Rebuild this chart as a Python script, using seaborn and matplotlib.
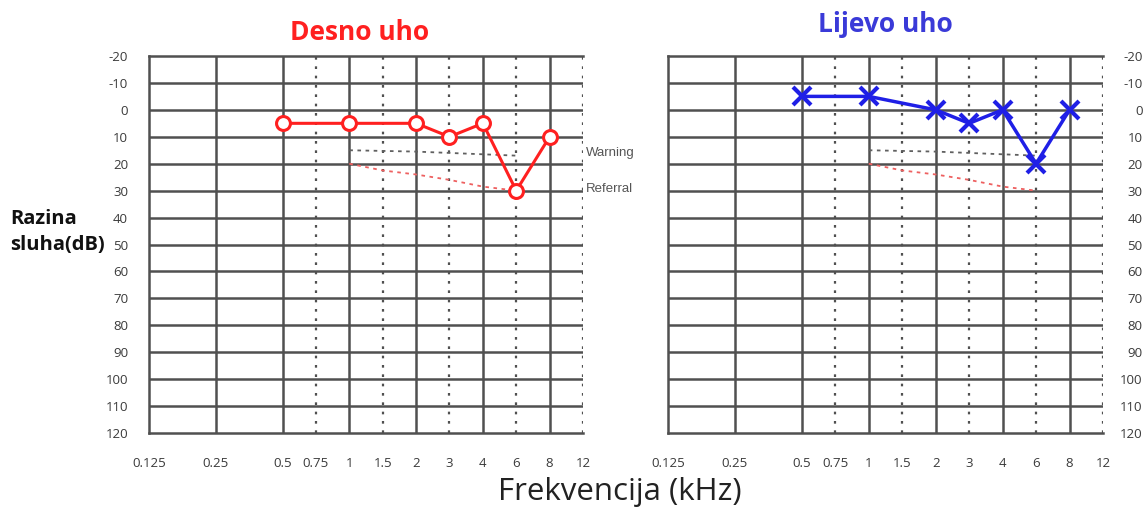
import numpy as np
import pandas as pd
import matplotlib
matplotlib.use("Agg")
import matplotlib.pyplot as plt
import seaborn as sns

# ---- data ----
freqs = [0.5, 1, 2, 3, 4, 6, 8]
right_ear = [5, 5, 5, 10, 5, 30, 10]      # Desno uho
left_ear = [-5, -5, 0, 5, 0, 20, 0]       # Lijevo uho

warn_freqs = [1, 2, 3, 4, 6]
warn_db = [15, 15.5, 16, 16.5, 17]
ref_freqs = [1, 1.5, 2, 3, 4, 6]
ref_db = [20, 22.5, 24, 26, 28.5, 30]

octave_ticks = [0.125, 0.25, 0.5, 1, 2, 4, 8]
octave_labels = ["0.125", "0.25", "0.5", "1", "2", "4", "8"]
half_ticks = [0.75, 1.5, 3, 6, 12]
half_labels = ["0.75", "1.5", "3", "6", "12"]
db_ticks = list(range(-20, 121, 10))

# ---- audiogram frequency scale: equal octaves, linear within each octave ----
def fwd(f):
    f = np.clip(np.asarray(f, dtype=float), 1e-6, None)
    k = np.floor(np.log2(f / 0.125) + 1e-9)
    base = 0.125 * 2.0 ** k
    return k + (f / base - 1.0)

def inv(p):
    p = np.asarray(p, dtype=float)
    k = np.floor(p + 1e-9)
    base = 0.125 * 2.0 ** k
    return base * (1.0 + (p - k))

sns.set_style("white")
plt.rcParams['font.family'] = ['Open Sans', 'DejaVu Sans']

W, H = 1146, 508
fig = plt.figure(figsize=(W / 100, H / 100), dpi=100)
axL = fig.add_axes([149 / W, 1 - 433 / H, (583 - 149) / W, (433 - 56) / H])
axR = fig.add_axes([668 / W, 1 - 433 / H, (1103 - 668) / W, (433 - 56) / H])

grid_c = "#505050"
tick_c = "#3a3a3a"

for ax, side in ((axL, "left"), (axR, "right")):
    ax.set_xscale("function", functions=(fwd, inv))
    ax.set_xlim(0.125, 12)
    ax.set_ylim(120, -20)
    ax.set_xticks(octave_ticks, labels=octave_labels)
    ax.set_xticks(half_ticks, labels=half_labels, minor=True)
    ax.set_yticks(db_ticks, labels=[str(v) for v in db_ticks])
    ax.grid(False)
    for v in octave_ticks[1:]:
        ax.axvline(v, color=grid_c, lw=1.8, zorder=1)
    for v in half_ticks:
        ax.axvline(v, color=grid_c, lw=1.6, ls=(0, (1.2, 3)), zorder=1)
    for v in db_ticks[1:-1]:
        ax.axhline(v, color=grid_c, lw=1.8, zorder=1)
    for s in ("left", "top", "bottom"):
        ax.spines[s].set_color(grid_c)
        ax.spines[s].set_linewidth(1.8)
    ax.spines["right"].set_visible(False)
    ax.tick_params(axis="x", which="both", length=0, pad=17, labelsize=9.5, labelcolor=tick_c)
    ax.tick_params(axis="y", length=0, pad=15, labelsize=9.5, labelcolor=tick_c)
    if side == "right":
        ax.yaxis.tick_right()
        ax.tick_params(axis="y", length=0, pad=28.5)
        for lab in ax.get_yticklabels():
            lab.set_horizontalalignment("right")
    # warning / referral reference lines
    ax.plot(warn_freqs, warn_db, color="#606060", lw=1.3, ls=(0, (2, 2.5)), zorder=2)
    ax.plot(ref_freqs, ref_db, color="#ee6060", lw=1.3, ls=(0, (2, 2.5)), zorder=2)

dfR = pd.DataFrame({"f": freqs, "db": right_ear})
dfL = pd.DataFrame({"f": freqs, "db": left_ear})

sns.lineplot(data=dfR, x="f", y="db", ax=axL, color="#ff2020", lw=2.2,
             marker="o", markersize=10, markerfacecolor="white",
             markeredgecolor="#ff2020", markeredgewidth=2.2, zorder=5)
sns.lineplot(data=dfL, x="f", y="db", ax=axR, color="#1f1fe6", lw=2.5,
             marker="x", markersize=13, markeredgewidth=3,
             markeredgecolor="#1f1fe6", zorder=5)
for ax in (axL, axR):
    ax.set_xlabel("")
    ax.set_ylabel("")

axL.text(12.3, 16, "Warning", fontsize=9.5, color="#555555", va="center", ha="left",
         family=["Liberation Sans", "DejaVu Sans"], clip_on=False)
axL.text(12.3, 29.5, "Referral", fontsize=9.5, color="#555555", va="center", ha="left",
         family=["Liberation Sans", "DejaVu Sans"], clip_on=False)

fig.text(360 / W, 1 - 32 / H, "Desno uho", color="#ff2020", fontsize=19,
         fontweight="bold", ha="center", va="center")
fig.text(885 / W, 1 - 25 / H, "Lijevo uho", color="#3a3ad8", fontsize=19,
         fontweight="bold", ha="center", va="center")
fig.text(620 / W, 1 - 492 / H, "Frekvencija (kHz)", color="#222222", fontsize=22.5,
         ha="center", va="center")
fig.text(10 / W, 1 - 232 / H, "Razina\nsluha(dB)", color="#111111", fontsize=14.5,
         fontweight="bold", ha="left", va="center", linespacing=1.35)

fig.savefig("out.png", dpi=100, facecolor="white")
